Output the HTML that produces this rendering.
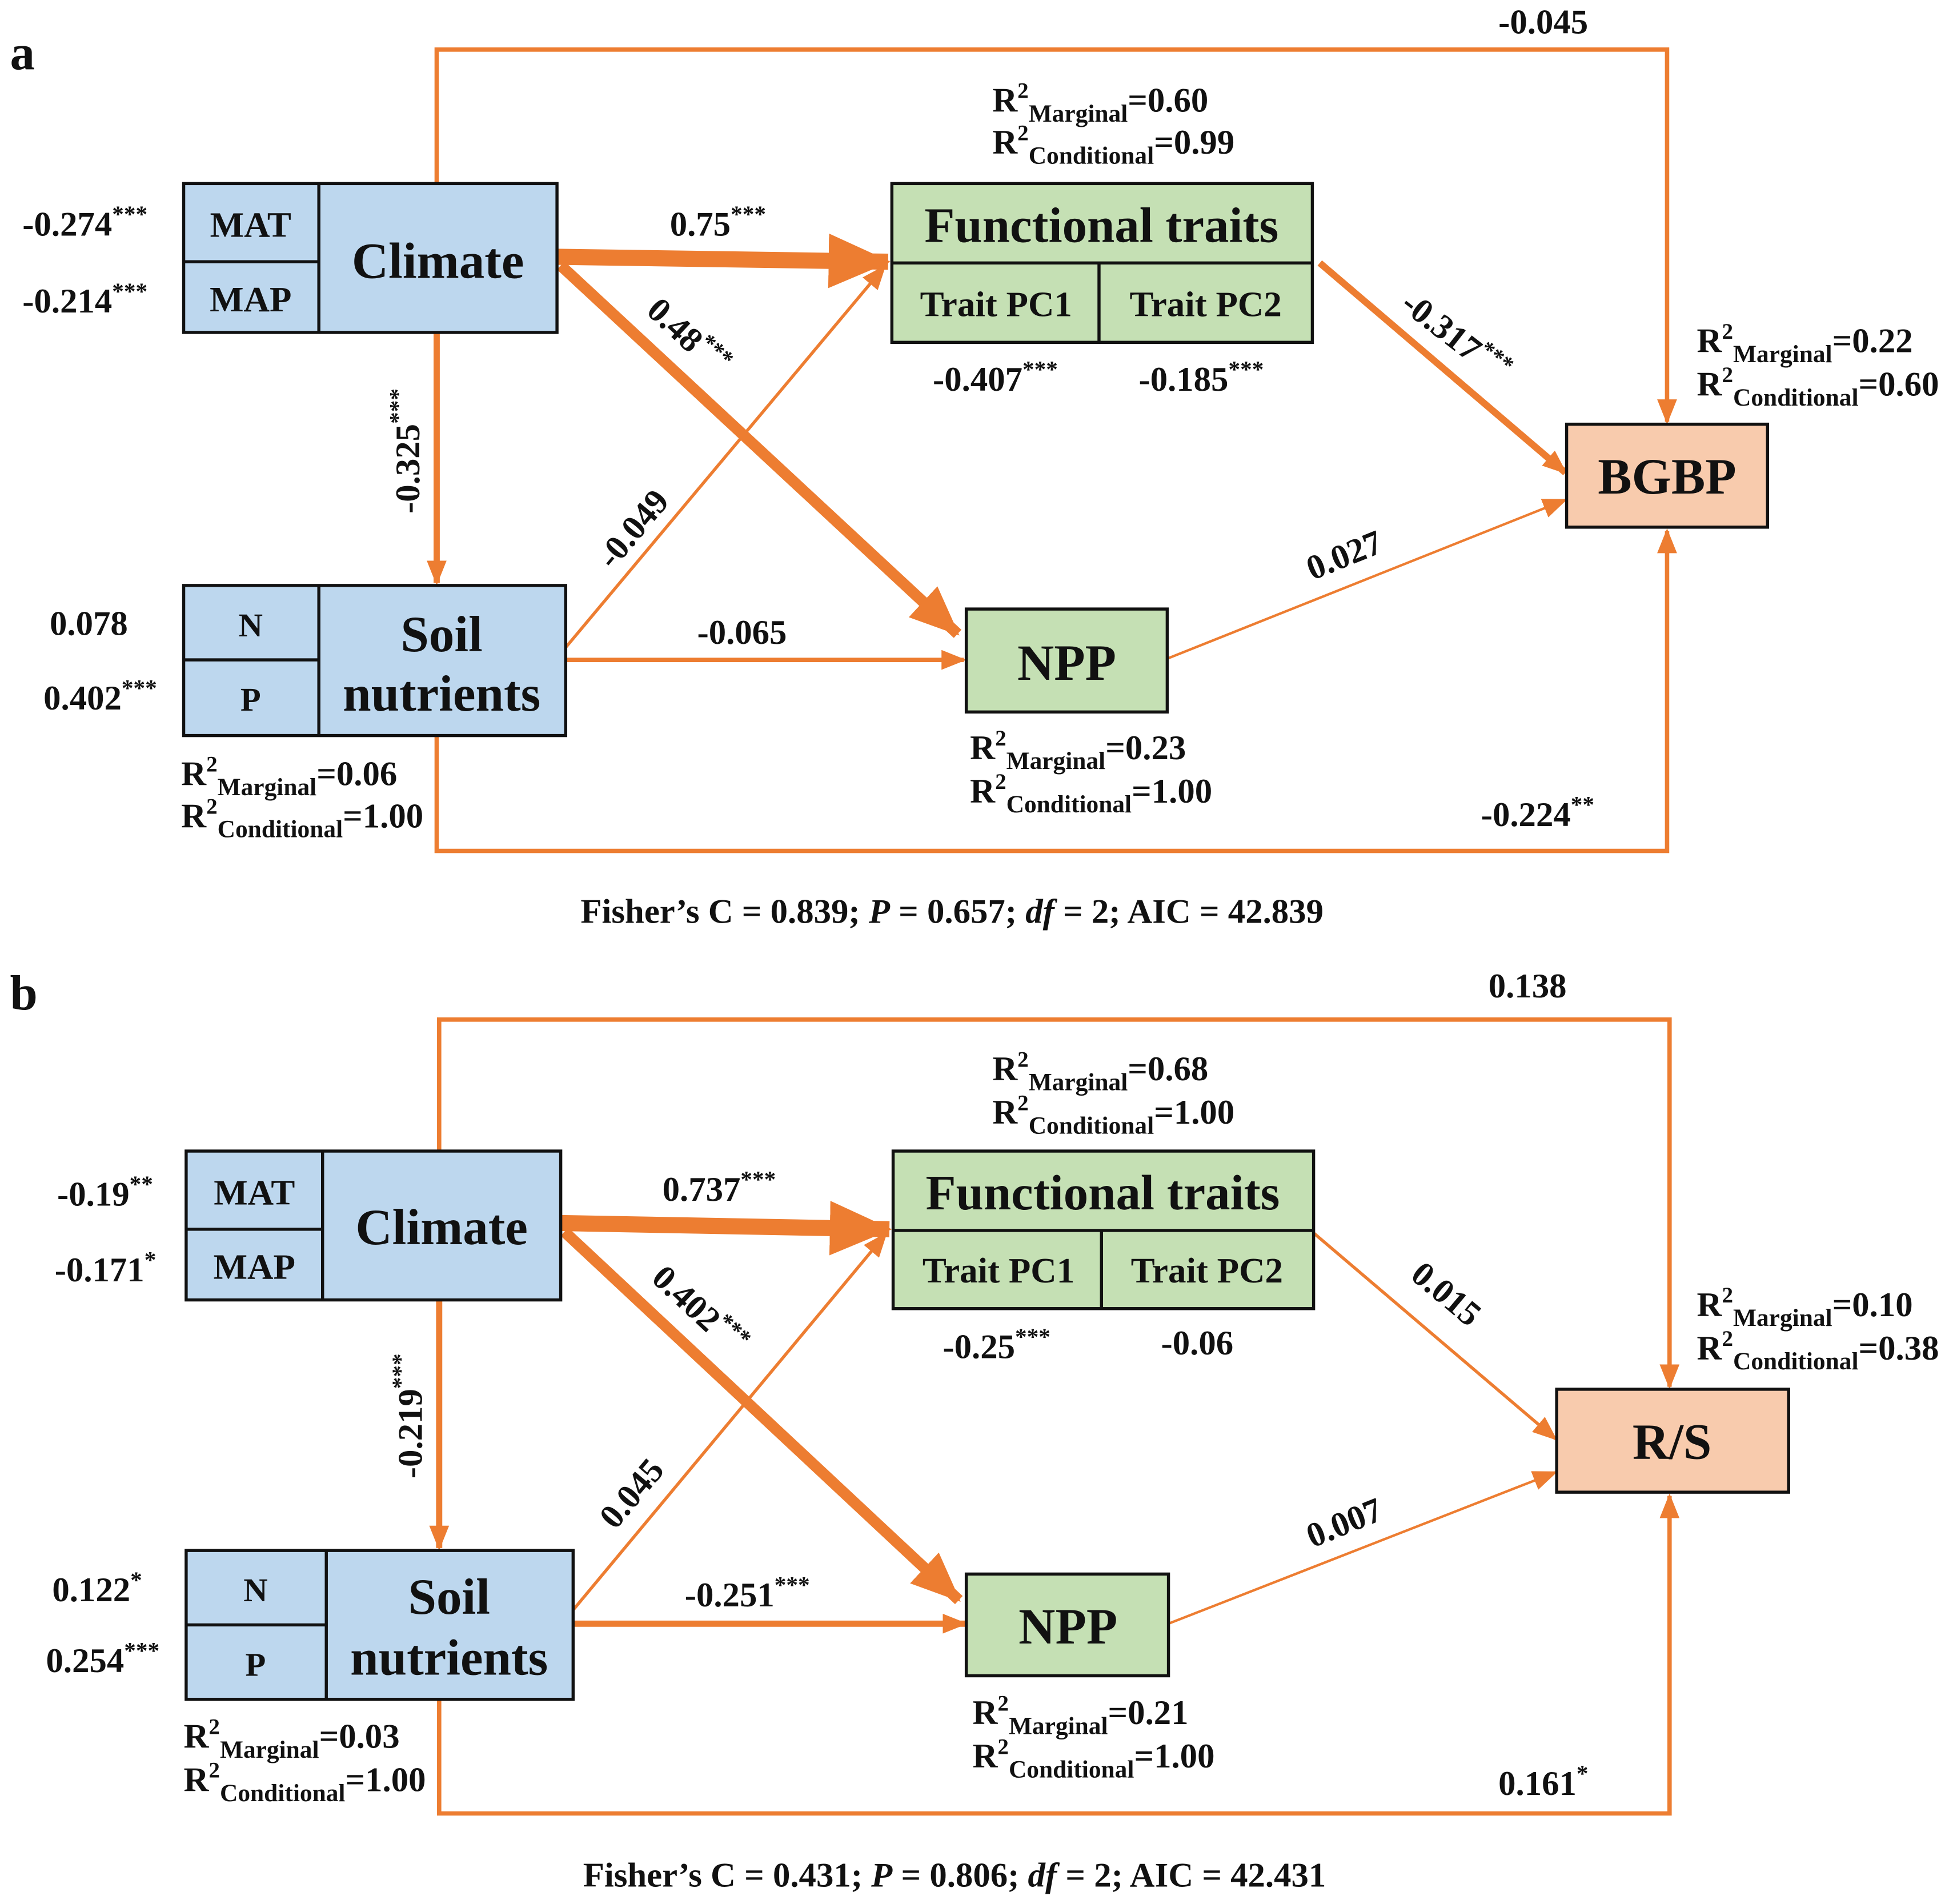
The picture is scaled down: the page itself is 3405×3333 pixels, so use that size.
<!DOCTYPE html>
<html><head><meta charset="utf-8"><style>
html,body{margin:0;padding:0;background:#fff;}
svg{display:block;}
text{font-family:"Liberation Serif",serif;font-weight:bold;fill:#111;}
</style></head><body>
<svg width="3405" height="3333" viewBox="0 0 1568 1535" xmlns="http://www.w3.org/2000/svg">
<defs>
<marker id="ah" markerUnits="userSpaceOnUse" markerWidth="20" markerHeight="16" refX="18" refY="8" orient="auto"><path d="M0,0 L20,8 L0,16 Z" fill="#ed7d31"/></marker>
<marker id="ahb" markerUnits="userSpaceOnUse" markerWidth="50" markerHeight="44" refX="48" refY="22" orient="auto"><path d="M0,0 L50,22 L0,44 Z" fill="#ed7d31"/></marker>
<marker id="ahm" markerUnits="userSpaceOnUse" markerWidth="40" markerHeight="34" refX="38" refY="17" orient="auto"><path d="M0,0 L40,17 L0,34 Z" fill="#ed7d31"/></marker>
</defs>
<g stroke="#ed7d31" fill="none">
<polyline points="352,148 352,40 1344,40 1344,340" stroke-width="3.5" marker-end="url(#ah)"/>
<polyline points="352,593 352,686 1344,686 1344,428" stroke-width="3.5" marker-end="url(#ah)"/>
<line x1="449" y1="207" x2="716" y2="211" stroke-width="13" marker-end="url(#ahb)"/>
<line x1="452" y1="214" x2="772" y2="511" stroke-width="9" marker-end="url(#ahm)"/>
<line x1="352" y1="268" x2="352" y2="470" stroke-width="5" marker-end="url(#ah)"/>
<line x1="456" y1="522" x2="713" y2="215" stroke-width="2.5" marker-end="url(#ah)"/>
<line x1="456" y1="532" x2="777" y2="532" stroke-width="3.5" marker-end="url(#ah)"/>
<line x1="1064" y1="212" x2="1262" y2="381" stroke-width="5.5" marker-end="url(#ah)"/>
<line x1="941" y1="531" x2="1262" y2="403" stroke-width="2" marker-end="url(#ah)"/>
<polyline points="354,928 354,822 1346,822 1346,1118" stroke-width="3.5" marker-end="url(#ah)"/>
<polyline points="354,1370 354,1462 1346,1462 1346,1206" stroke-width="3.5" marker-end="url(#ah)"/>
<line x1="452" y1="986" x2="717" y2="991" stroke-width="13" marker-end="url(#ahb)"/>
<line x1="455" y1="993" x2="773" y2="1290" stroke-width="9" marker-end="url(#ahm)"/>
<line x1="354" y1="1048" x2="354" y2="1248" stroke-width="5" marker-end="url(#ah)"/>
<line x1="462" y1="1298" x2="714" y2="995" stroke-width="2.5" marker-end="url(#ah)"/>
<line x1="462" y1="1309" x2="778" y2="1309" stroke-width="5" marker-end="url(#ah)"/>
<line x1="1059" y1="994" x2="1254" y2="1160" stroke-width="2.5" marker-end="url(#ah)"/>
<line x1="942" y1="1309" x2="1254" y2="1187" stroke-width="2" marker-end="url(#ah)"/>
</g>
<g stroke="#111" stroke-width="2.5">
<rect x="148" y="148" width="301" height="120" fill="#bdd7ee"/>
<line x1="257" y1="148" x2="257" y2="268"/><line x1="148" y1="211" x2="257" y2="211"/>
<rect x="719" y="148" width="339" height="128" fill="#c5e0b4"/>
<line x1="719" y1="212" x2="1058" y2="212"/><line x1="886" y1="212" x2="886" y2="276"/>
<rect x="1263" y="342" width="162" height="83" fill="#f8cbad"/>
<rect x="148" y="472" width="308" height="121" fill="#bdd7ee"/>
<line x1="257" y1="472" x2="257" y2="593"/><line x1="148" y1="532" x2="257" y2="532"/>
<rect x="779" y="491" width="162" height="83" fill="#c5e0b4"/>
<rect x="150" y="928" width="302" height="120" fill="#bdd7ee"/>
<line x1="260" y1="928" x2="260" y2="1048"/><line x1="150" y1="991" x2="260" y2="991"/>
<rect x="720" y="928" width="339" height="127" fill="#c5e0b4"/>
<line x1="720" y1="992" x2="1059" y2="992"/><line x1="888" y1="992" x2="888" y2="1055"/>
<rect x="1255" y="1120" width="187" height="83" fill="#f8cbad"/>
<rect x="150" y="1250" width="312" height="120" fill="#bdd7ee"/>
<line x1="263" y1="1250" x2="263" y2="1370"/><line x1="150" y1="1310" x2="263" y2="1310"/>
<rect x="779" y="1269" width="163" height="82" fill="#c5e0b4"/>
</g>
<text x="8" y="56" font-size="40">a</text>
<text x="8" y="814" font-size="40">b</text>
<g text-anchor="middle">
<text x="202" y="191" font-size="29">MAT</text>
<text x="202" y="251" font-size="29">MAP</text>
<text x="353" y="224" font-size="41">Climate</text>
<text x="888" y="195" font-size="40">Functional traits</text>
<text x="803" y="255" font-size="29">Trait PC1</text>
<text x="972" y="255" font-size="29">Trait PC2</text>
<text x="1344" y="398" font-size="41">BGBP</text>
<text x="202" y="513" font-size="27">N</text>
<text x="202" y="573" font-size="27">P</text>
<text x="356" y="525" font-size="41">Soil</text>
<text x="356" y="573" font-size="41">nutrients</text>
<text x="860" y="548" font-size="41">NPP</text>
<text x="205" y="971" font-size="29">MAT</text>
<text x="205" y="1031" font-size="29">MAP</text>
<text x="356" y="1003" font-size="41">Climate</text>
<text x="889" y="975" font-size="40">Functional traits</text>
<text x="805" y="1034" font-size="29">Trait PC1</text>
<text x="973" y="1034" font-size="29">Trait PC2</text>
<text x="1348" y="1176" font-size="41">R/S</text>
<text x="206" y="1291" font-size="27">N</text>
<text x="206" y="1351" font-size="27">P</text>
<text x="362" y="1301" font-size="41">Soil</text>
<text x="362" y="1350" font-size="41">nutrients</text>
<text x="861" y="1325" font-size="41">NPP</text>
</g>
<g font-size="28">
<text x="1208" y="27">-0.045</text>
<text x="18" y="190">-0.274<tspan dy="-11" font-size="19">***</tspan></text>
<text x="18" y="252">-0.214<tspan dy="-11" font-size="19">***</tspan></text>
<text x="40" y="512">0.078</text>
<text x="35" y="572">0.402<tspan dy="-11" font-size="19">***</tspan></text>
<text x="540" y="190">0.75<tspan dy="-11" font-size="19">***</tspan></text>
<text x="752" y="315">-0.407<tspan dy="-11" font-size="19">***</tspan></text>
<text x="918" y="315">-0.185<tspan dy="-11" font-size="19">***</tspan></text>
<text x="562" y="519">-0.065</text>
<text x="1194" y="666">-0.224<tspan dy="-11" font-size="19">**</tspan></text>
<text transform="translate(520,252) rotate(43)">0.48<tspan dy="-11" font-size="19">***</tspan></text>
<text transform="translate(1128,248) rotate(38)">-0.317<tspan dy="-11" font-size="19">***</tspan></text>
<text transform="translate(338,414) rotate(-90)">-0.325<tspan dy="-11" font-size="19">***</tspan></text>
<text transform="translate(494,460) rotate(-50)">-0.049</text>
<text transform="translate(1058,468) rotate(-22)">0.027</text>
<text x="800" y="90">R<tspan dy="-11" font-size="18">2</tspan><tspan dy="19" font-size="20">Marginal</tspan><tspan dy="-8">=0.60</tspan></text>
<text x="800" y="124">R<tspan dy="-11" font-size="18">2</tspan><tspan dy="19" font-size="20">Conditional</tspan><tspan dy="-8">=0.99</tspan></text>
<text x="1368" y="284">R<tspan dy="-11" font-size="18">2</tspan><tspan dy="19" font-size="20">Marginal</tspan><tspan dy="-8">=0.22</tspan></text>
<text x="1368" y="319">R<tspan dy="-11" font-size="18">2</tspan><tspan dy="19" font-size="20">Conditional</tspan><tspan dy="-8">=0.60</tspan></text>
<text x="146" y="633">R<tspan dy="-11" font-size="18">2</tspan><tspan dy="19" font-size="20">Marginal</tspan><tspan dy="-8">=0.06</tspan></text>
<text x="146" y="667">R<tspan dy="-11" font-size="18">2</tspan><tspan dy="19" font-size="20">Conditional</tspan><tspan dy="-8">=1.00</tspan></text>
<text x="782" y="612">R<tspan dy="-11" font-size="18">2</tspan><tspan dy="19" font-size="20">Marginal</tspan><tspan dy="-8">=0.23</tspan></text>
<text x="782" y="647">R<tspan dy="-11" font-size="18">2</tspan><tspan dy="19" font-size="20">Conditional</tspan><tspan dy="-8">=1.00</tspan></text>
<text x="468" y="744">Fisher’s C = 0.839; <tspan font-style="italic">P</tspan> = 0.657; <tspan font-style="italic">df</tspan> = 2; AIC = 42.839</text>
<text x="1200" y="804">0.138</text>
<text x="46" y="972">-0.19<tspan dy="-11" font-size="19">**</tspan></text>
<text x="44" y="1033">-0.171<tspan dy="-11" font-size="19">*</tspan></text>
<text x="42" y="1291">0.122<tspan dy="-11" font-size="19">*</tspan></text>
<text x="37" y="1348">0.254<tspan dy="-11" font-size="19">***</tspan></text>
<text x="534" y="968">0.737<tspan dy="-11" font-size="19">***</tspan></text>
<text x="760" y="1095">-0.25<tspan dy="-11" font-size="19">***</tspan></text>
<text x="936" y="1092">-0.06</text>
<text x="552" y="1295">-0.251<tspan dy="-11" font-size="19">***</tspan></text>
<text x="1208" y="1447">0.161<tspan dy="-11" font-size="19">*</tspan></text>
<text transform="translate(524,1032) rotate(43)">0.402<tspan dy="-11" font-size="19">***</tspan></text>
<text transform="translate(1136,1030) rotate(40)">0.015</text>
<text transform="translate(340,1192) rotate(-90)">-0.219<tspan dy="-11" font-size="19">***</tspan></text>
<text transform="translate(496,1234) rotate(-50)">0.045</text>
<text transform="translate(1058,1248) rotate(-22)">0.007</text>
<text x="800" y="871">R<tspan dy="-11" font-size="18">2</tspan><tspan dy="19" font-size="20">Marginal</tspan><tspan dy="-8">=0.68</tspan></text>
<text x="800" y="906">R<tspan dy="-11" font-size="18">2</tspan><tspan dy="19" font-size="20">Conditional</tspan><tspan dy="-8">=1.00</tspan></text>
<text x="1368" y="1061">R<tspan dy="-11" font-size="18">2</tspan><tspan dy="19" font-size="20">Marginal</tspan><tspan dy="-8">=0.10</tspan></text>
<text x="1368" y="1096">R<tspan dy="-11" font-size="18">2</tspan><tspan dy="19" font-size="20">Conditional</tspan><tspan dy="-8">=0.38</tspan></text>
<text x="148" y="1409">R<tspan dy="-11" font-size="18">2</tspan><tspan dy="19" font-size="20">Marginal</tspan><tspan dy="-8">=0.03</tspan></text>
<text x="148" y="1444">R<tspan dy="-11" font-size="18">2</tspan><tspan dy="19" font-size="20">Conditional</tspan><tspan dy="-8">=1.00</tspan></text>
<text x="784" y="1390">R<tspan dy="-11" font-size="18">2</tspan><tspan dy="19" font-size="20">Marginal</tspan><tspan dy="-8">=0.21</tspan></text>
<text x="784" y="1425">R<tspan dy="-11" font-size="18">2</tspan><tspan dy="19" font-size="20">Conditional</tspan><tspan dy="-8">=1.00</tspan></text>
<text x="470" y="1521">Fisher’s C = 0.431; <tspan font-style="italic">P</tspan> = 0.806; <tspan font-style="italic">df</tspan> = 2; AIC = 42.431</text>
</g>
</svg>
</body></html>
